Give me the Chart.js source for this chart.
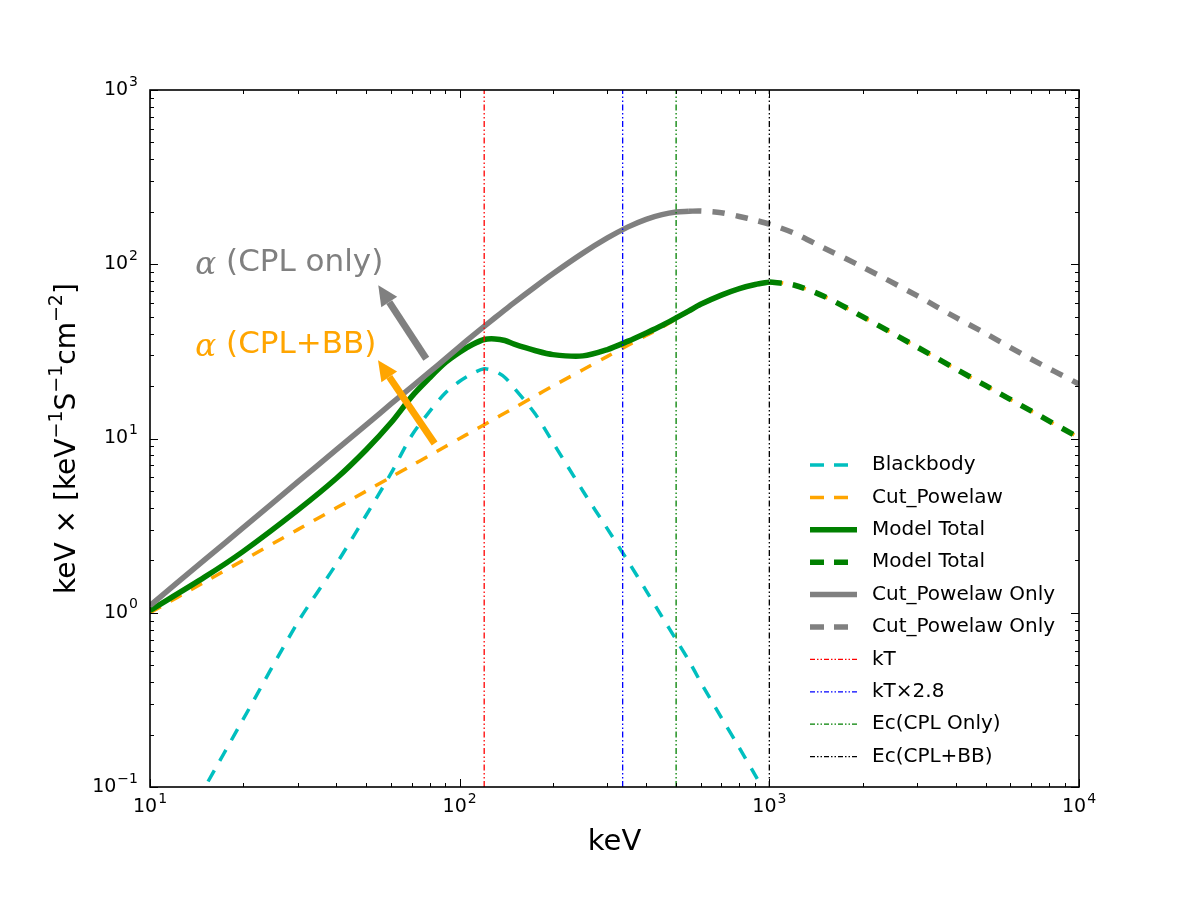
<!DOCTYPE html>
<html>
<head>
<meta charset="utf-8">
<title>CPL + BB spectrum</title>
<script src="https://cdn.jsdelivr.net/npm/chart.js@4.4.1/dist/chart.umd.min.js"></script>
<style>
  html, body { margin: 0; padding: 0; background: #fff; }
  #wrap { width: 1200px; height: 900px; }
</style>
</head>
<body>
<div id="wrap"><canvas id="spectrum" width="1200" height="900"></canvas></div>
<script>
// --- data (keV, keV x flux) ---
const energy = [10, 15, 20, 30, 40, 50, 60, 70, 80, 90, 100, 110, 120, 130, 140, 150, 175, 200, 250, 300,
                350, 400, 450, 500, 550, 600, 700, 800, 900, 1000, 1200, 1500, 2000, 3000, 4000, 5000, 7000, 10000];

const blackbody = [0.028, 0.099, 0.245, 0.88, 1.91, 3.65, 6.3, 10.4, 14.3, 18.3, 21.3, 23.6, 25.1, 24.3, 22.4, 19.5, 13.9, 9.5, 5.0, 3.03,
                   1.97, 1.34, 0.95, 0.70, 0.53, 0.40, 0.25, 0.168, 0.117, 0.085, null, null, null, null, null, null, null, null];

const cutPowerlaw = [1.0, 1.5, 2.0, 3.0, 4.0, 5.0, 6.0, 7.0, 8.0, 9.0, 10.0, 11.0, 12.0, 13.0, 14.0, 15.0, 17.5, 20.0, 24.8, 29.6,
                     34.3, 39.0, 43.5, 48.5, 53.5, 58.5, 66.3, 72.3, 76.4, 79.0, 76.0, 65.5, 50.0, 33.5, 25.1, 20.1, 14.4, 10.1];

const modelTotal = [1.03, 1.60, 2.25, 3.88, 5.91, 8.65, 12.3, 17.4, 22.3, 27.3, 31.3, 34.6, 37.0, 37.3, 36.5, 34.8, 32.0, 30.3, 29.8, 32.4,
                    36.2, 40.3, 44.5, 49.2, 54.0, 58.9, 66.5, 72.5, 76.5, 79.0, null, null, null, null, null, null, null, null];

const modelTotalHigh = [null, null, null, null, null, null, null, null, null, null, null, null, null, null, null, null, null, null, null, null,
                        null, null, null, null, null, null, null, null, null, 79.0, 76.0, 65.5, 50.0, 33.5, 25.1, 20.1, 14.4, 10.1];

const cplOnly = [1.1, 2.01, 3.08, 5.63, 8.63, 12.0, 15.8, 19.8, 24.1, 28.7, 33.7, 38.8, 44.0, 49.3, 54.7, 60.2, 74.1, 88.2, 115.8, 141.5,
                 163.9, 181.1, 192.5, 199.2, 201.5, null, null, null, null, null, null, null, null, null, null, null, null, null];

const cplOnlyHigh = [null, null, null, null, null, null, null, null, null, null, null, null, null, null, null, null, null, null, null, null,
                     null, null, null, null, 201.5, 202, 197.5, 188, 179, 170, 151, 124, 96.5, 66, 49.5, 40, 28.6, 20.5];

// vertical markers
const markerEnergy = [120, 336, 500, 1000];
const markerLabels = ['kT', 'kT\u00d72.8', 'Ec(CPL Only)', 'Ec(CPL+BB)'];
const markerColors = ['#ff0000', '#0000ff', '#008000', '#000000'];

// axes
const xMin = 10, xMax = 10000, yMin = 0.1, yMax = 1000;
const xTickValues = [10, 100, 1000, 10000];
const xTickExp = ['1', '2', '3', '4'];
const yTickValues = [0.1, 1, 10, 100, 1000];
const yTickExp = ['\u22121', '0', '1', '2', '3'];

const SANS = '"DejaVu Sans", "Bitstream Vera Sans", sans-serif';

const toPoints = (vals) => energy.map((e, i) => ({ x: e, y: vals[i] })).filter(p => p.y !== null);

const DASH = [12.5, 11];
const MARK_DASH = [6, 2.5, 1.5, 2.5, 1.5, 2.5];

const curveSets = [
    { label: 'Blackbody', data: toPoints(blackbody), borderColor: '#00bfbf', borderWidth: 3.5, borderDash: DASH },
    { label: 'Cut_Powelaw', data: toPoints(cutPowerlaw), borderColor: '#ffa500', borderWidth: 3.5, borderDash: DASH },
    { label: 'Model Total', data: toPoints(modelTotal), borderColor: '#008000', borderWidth: 5.5, borderDash: [] },
    { label: 'Model Total', data: toPoints(modelTotalHigh), borderColor: '#008000', borderWidth: 5.5, borderDash: DASH },
    { label: 'Cut_Powelaw Only', data: toPoints(cplOnly), borderColor: '#808080', borderWidth: 5.5, borderDash: [] },
    { label: 'Cut_Powelaw Only', data: toPoints(cplOnlyHigh), borderColor: '#808080', borderWidth: 5.5, borderDash: DASH }
];

const markerSets = markerEnergy.map((e, i) => ({
    label: markerLabels[i],
    data: [{ x: e, y: yMin }, { x: e, y: yMax }],
    borderColor: markerColors[i],
    borderWidth: 1.3,
    borderDash: MARK_DASH,
    tension: 0
}));

const datasets = curveSets.concat(markerSets).map((d, i, all) => Object.assign({
    pointRadius: 0,
    pointHoverRadius: 0,
    fill: false,
    tension: 0.3,
    clip: 0,
    order: all.length - i
}, d));

// draws "base^exp" with a raised, smaller exponent
function drawPower(ctx, base, exp, x, y, align) {
    ctx.font = '19px ' + SANS;
    const wb = ctx.measureText(base).width;
    ctx.font = '14px ' + SANS;
    const we = ctx.measureText(exp).width;
    const left = align === 'right' ? x - wb - we - 1 : x - (wb + we + 1) / 2;
    ctx.textAlign = 'left';
    ctx.textBaseline = 'middle';
    ctx.font = '19px ' + SANS;
    ctx.fillText(base, left, y);
    ctx.font = '14px ' + SANS;
    ctx.fillText(exp, left + wb + 1, y - 8);
}

// draws a horizontal run of text pieces, some of them superscripts, centred on (0,0)
function drawRich(ctx, parts, size) {
    const supSize = Math.round(size * 0.68);
    const widths = parts.map(p => {
        ctx.font = (p.sup ? supSize : size) + 'px ' + SANS;
        return ctx.measureText(p.t).width;
    });
    let x = -widths.reduce((a, b) => a + b, 0) / 2;
    ctx.textAlign = 'left';
    ctx.textBaseline = 'middle';
    parts.forEach((p, i) => {
        ctx.font = (p.sup ? supSize : size) + 'px ' + SANS;
        ctx.fillText(p.t, x, p.sup ? -size * 0.38 : 0);
        x += widths[i];
    });
}

const yTitleParts = [
    { t: 'keV \u00d7 [keV' }, { t: '\u22121', sup: true },
    { t: 'S' }, { t: '\u22121', sup: true },
    { t: 'cm' }, { t: '\u22122', sup: true }, { t: ']' }
];

// --- frame with inward ticks on all sides, tick labels, y title ---
const frameTicks = {
    id: 'frameTicks',
    afterDatasetsDraw(chart) {
        const { ctx, chartArea: a, scales: { x, y } } = chart;
        ctx.save();
        ctx.strokeStyle = '#000';
        ctx.lineWidth = 1;
        ctx.beginPath();
        for (let d = xMin; d < xMax * 10; d *= 10) {
            for (let m = 1; m <= 9; m++) {
                const v = d * m;
                if (v < xMin || v > xMax) continue;
                const px = Math.round(x.getPixelForValue(v)) + 0.5;
                const len = m === 1 ? 8 : 4;
                ctx.moveTo(px, a.bottom); ctx.lineTo(px, a.bottom - len);
                ctx.moveTo(px, a.top); ctx.lineTo(px, a.top + len);
            }
        }
        for (let d = yMin; d < yMax * 10; d *= 10) {
            for (let m = 1; m <= 9; m++) {
                const v = d * m;
                if (v < yMin * 0.999 || v > yMax * 1.001) continue;
                const py = Math.round(y.getPixelForValue(v)) + 0.5;
                const len = m === 1 ? 8 : 4;
                ctx.moveTo(a.left, py); ctx.lineTo(a.left + len, py);
                ctx.moveTo(a.right, py); ctx.lineTo(a.right - len, py);
            }
        }
        ctx.stroke();
        ctx.lineWidth = 1.6;
        ctx.strokeRect(a.left, a.top, a.right - a.left, a.bottom - a.top);

        ctx.fillStyle = '#000';
        xTickValues.forEach((v, i) => drawPower(ctx, '10', xTickExp[i], x.getPixelForValue(v), a.bottom + 20, 'center'));
        yTickValues.forEach((v, i) => drawPower(ctx, '10', yTickExp[i], a.left - 12, y.getPixelForValue(v), 'right'));

        ctx.translate(68, (a.top + a.bottom) / 2);
        ctx.rotate(-Math.PI / 2);
        drawRich(ctx, yTitleParts, 28);
        ctx.restore();
    }
};

// --- alpha annotations with arrows ---
const notes = [
    { text: ' (CPL only)', color: '#808080', at: [14, 102], tail: [78, 28.7], tip: [54.6, 75.7] },
    { text: ' (CPL+BB)', color: '#ffa500', at: [14, 34.3], tail: [83, 9.35], tip: [54.5, 28.1] }
];

function drawArrow(ctx, x0, y0, x1, y1, color) {
    const ang = Math.atan2(y1 - y0, x1 - x0);
    const headLen = 20, headHalf = 9.5;
    const bx = x1 - headLen * Math.cos(ang), by = y1 - headLen * Math.sin(ang);
    ctx.strokeStyle = color;
    ctx.fillStyle = color;
    ctx.lineWidth = 7;
    ctx.lineCap = 'butt';
    ctx.beginPath();
    ctx.moveTo(x0, y0);
    ctx.lineTo(bx, by);
    ctx.stroke();
    ctx.beginPath();
    ctx.moveTo(x1, y1);
    ctx.lineTo(bx + headHalf * Math.sin(ang), by - headHalf * Math.cos(ang));
    ctx.lineTo(bx - headHalf * Math.sin(ang), by + headHalf * Math.cos(ang));
    ctx.closePath();
    ctx.fill();
}

const annotations = {
    id: 'annotations',
    afterDatasetsDraw(chart) {
        const { ctx, scales: { x, y } } = chart;
        ctx.save();
        notes.forEach(n => {
            drawArrow(ctx, x.getPixelForValue(n.tail[0]), y.getPixelForValue(n.tail[1]),
                      x.getPixelForValue(n.tip[0]), y.getPixelForValue(n.tip[1]), n.color);
            const tx = x.getPixelForValue(n.at[0]);
            const ty = y.getPixelForValue(n.at[1]);
            ctx.fillStyle = n.color;
            ctx.textBaseline = 'middle';
            ctx.textAlign = 'left';
            ctx.font = 'italic 31px "DejaVu Serif", serif';
            ctx.fillText('\u03b1', tx, ty + 3);
            const w = ctx.measureText('\u03b1').width;
            ctx.font = '31px ' + SANS;
            ctx.fillText(n.text, tx + w, ty);
        });
        ctx.restore();
    }
};

// --- legend inside the axes, lower right ---
const insideLegend = {
    id: 'insideLegend',
    afterDraw(chart) {
        const { ctx } = chart;
        const x0 = 810, lineLen = 47, textX = 872, y0 = 465, step = 32.4;
        ctx.save();
        ctx.font = '20px ' + SANS;
        ctx.textBaseline = 'middle';
        ctx.textAlign = 'left';
        chart.data.datasets.forEach((d, i) => {
            const yy = y0 + i * step;
            ctx.strokeStyle = d.borderColor;
            ctx.lineWidth = d.borderWidth;
            ctx.setLineDash(d.borderDash && d.borderDash.length ? (d.borderWidth > 2 ? [14, 10] : [5, 2, 1.5, 2, 1.5, 2]) : []);
            ctx.beginPath();
            ctx.moveTo(x0, yy);
            ctx.lineTo(x0 + lineLen, yy);
            ctx.stroke();
            ctx.setLineDash([]);
            ctx.fillStyle = '#000';
            ctx.fillText(d.label, textX, yy);
        });
        ctx.restore();
    }
};

new Chart(document.getElementById('spectrum'), {
    type: 'line',
    data: { datasets },
    options: {
        responsive: false,
        animation: false,
        events: [],
        layout: { padding: { left: 0, top: 90, right: 121, bottom: 0 } },
        plugins: {
            legend: { display: false },
            tooltip: { enabled: false }
        },
        scales: {
            x: {
                type: 'logarithmic',
                min: xMin,
                max: xMax,
                grid: { display: false, drawTicks: false },
                border: { display: false },
                afterFit: (s) => { s.height = 113; },
                ticks: { display: false },
                title: {
                    display: true,
                    text: 'keV',
                    color: '#000',
                    font: { family: SANS, size: 29 },
                    padding: { top: 0, bottom: 40 }
                }
            },
            y: {
                type: 'logarithmic',
                min: yMin,
                max: yMax,
                grid: { display: false, drawTicks: false },
                border: { display: false },
                afterFit: (s) => { s.width = 150; },
                ticks: { display: false }
            }
        }
    },
    plugins: [frameTicks, annotations, insideLegend]
});
</script>
</body>
</html>
